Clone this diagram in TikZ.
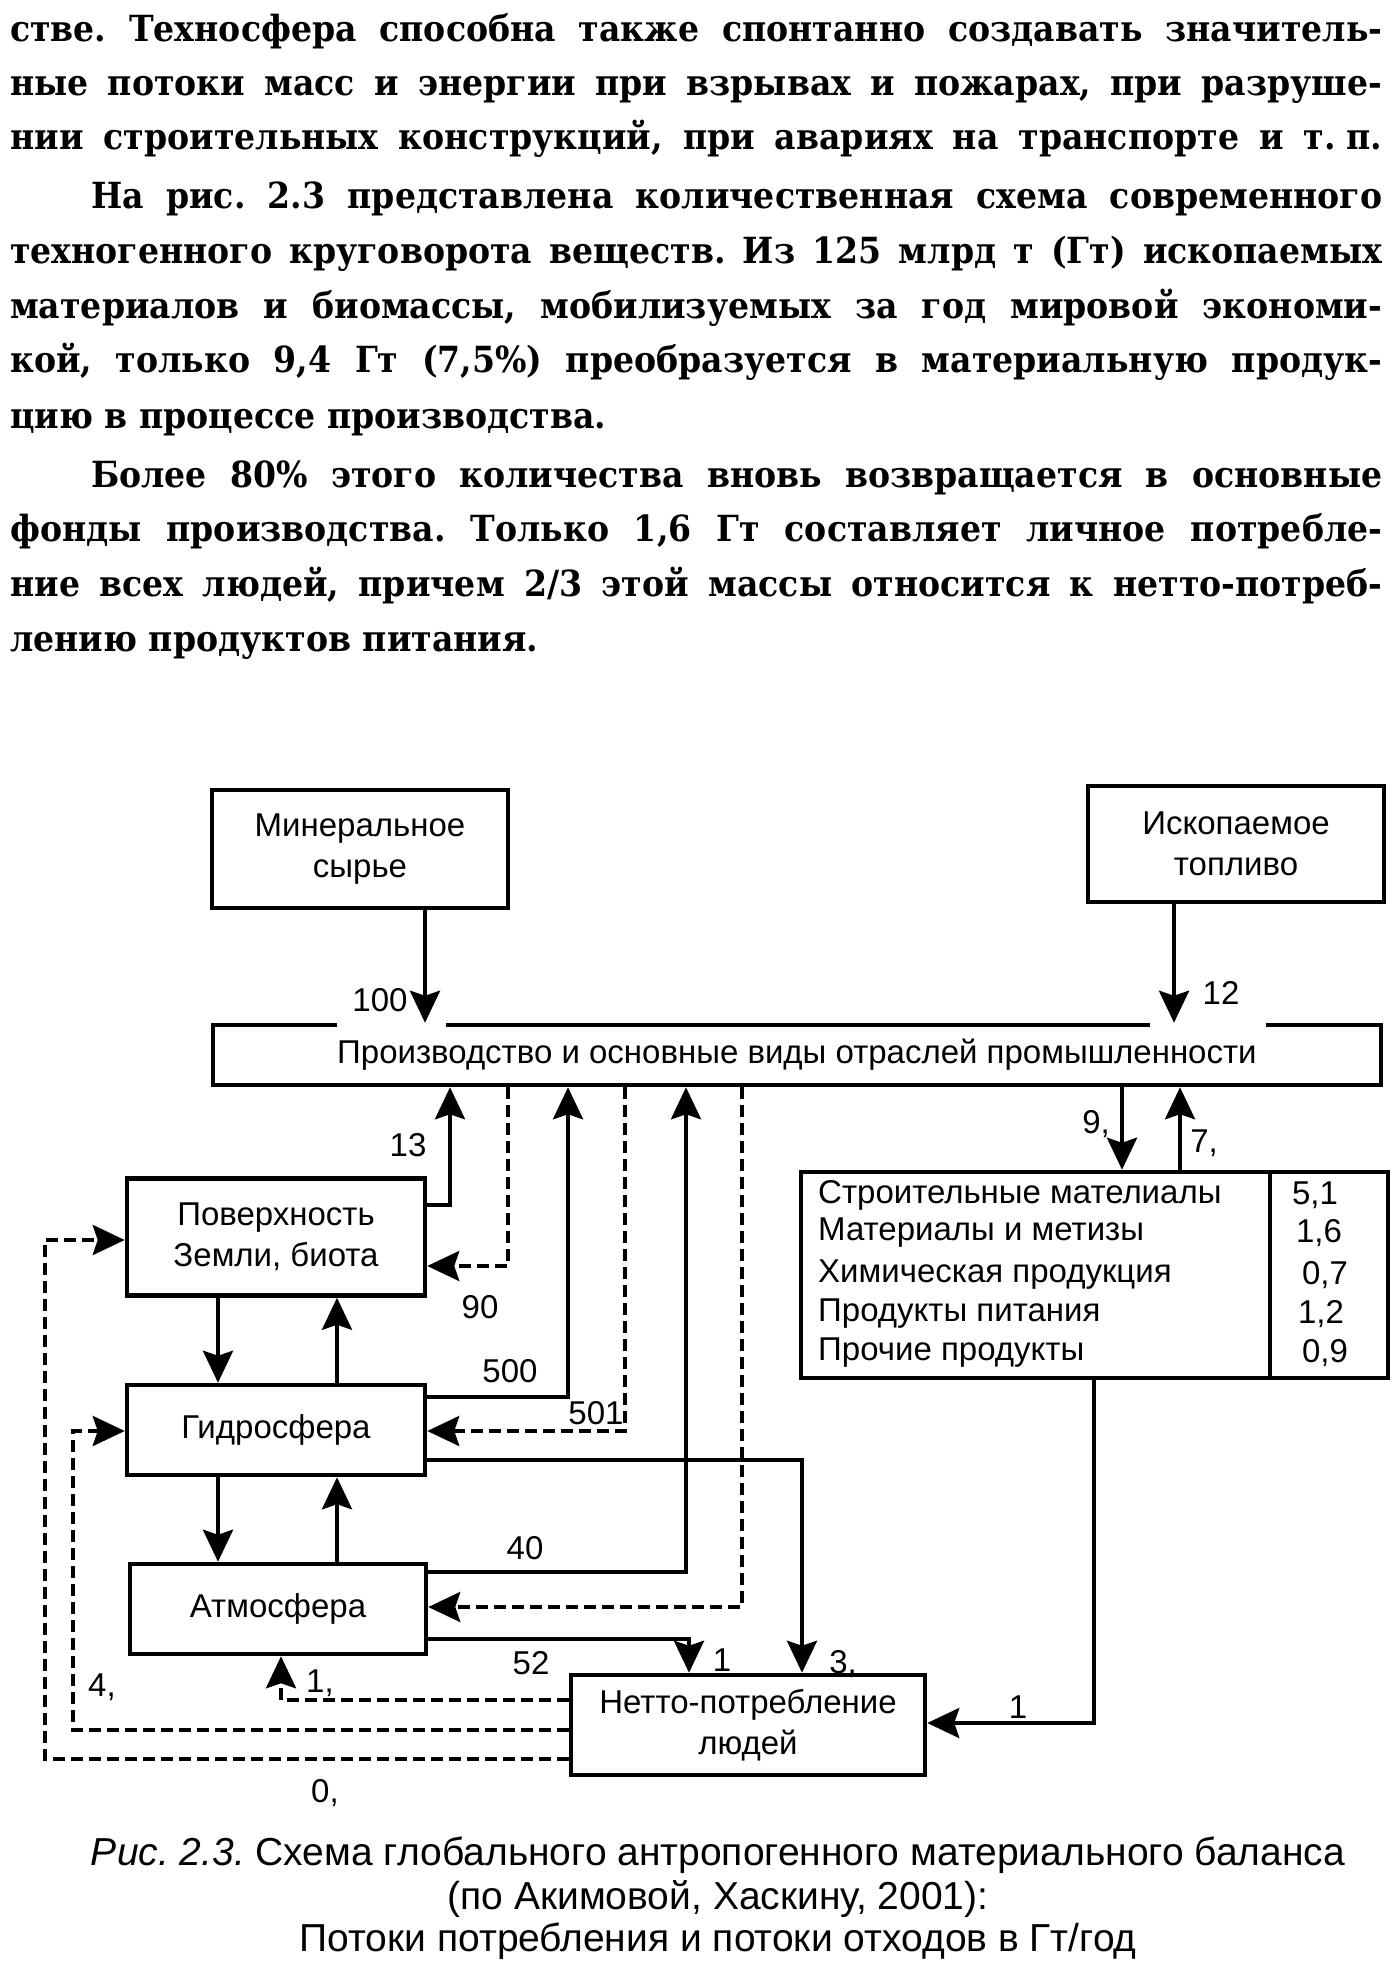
\documentclass[tikz,border=0pt]{standalone}
\usepackage{fontspec}
\setmainfont{DejaVu Serif}
\newfontfamily\tfont{DejaVu Serif Bold}[FakeStretch=0.92]
\newfontfamily\dfont{Liberation Sans}
\usetikzlibrary{arrows.meta}
\frenchspacing
\newcommand\tsz{\tfont\fontsize{36}{40}\selectfont\frenchspacing}
\newcommand\dsz{\dfont\fontsize{33}{41}\selectfont}
\newcommand\csz{\dfont\fontsize{39}{42}\selectfont}
\newcommand\jl[4]{\node[anchor=base west,inner sep=0pt] (#1) at (#2,#3) {\tsz\makebox[\dimexpr1382pt-#2pt\relax][s]{#4}};}
\newcommand\fl[4]{\node[anchor=base west,inner sep=0pt] (#1) at (#2,#3) {\tsz #4};}
\begin{document}
\begin{tikzpicture}[x=1pt,y=-1pt,
  box/.style={draw,line width=4.5pt,inner sep=0pt,font=\dsz,align=center},
  flow/.style={line width=4pt,-{Stealth[length=32pt,width=30pt,inset=5pt]}},
  dflow/.style={flow,dash pattern=on 12pt off 6pt},
  lbl/.style={font=\dsz,inner sep=0pt},
  row/.style={font=\dsz,inner sep=0pt,anchor=west}]
\fill[white] (0,0) rectangle (1397,1988);
\useasboundingbox (0,0) rectangle (1397,1988);

% paragraph text
\jl{p1}{10}{42}{стве. Техносфера способна также спонтанно создавать значитель-}
\jl{p2}{10}{96}{ные потоки масс и энергии при взрывах и пожарах, при разруше-}
\jl{p3}{10}{150}{нии строительных конструкций, при авариях на транспорте и т.\kern.3em п.}
\jl{p4}{91}{208}{На рис. 2.3 представлена количественная схема современного}
\jl{p5}{10}{263}{техногенного круговорота веществ. Из 125 млрд т (Гт) ископаемых}
\jl{p6}{10}{318}{материалов и биомассы, мобилизуемых за год мировой экономи-}
\jl{p7}{10}{372}{кой, только 9,4 Гт (7,5\%) преобразуется в материальную продук-}
\fl{p8}{10}{428}{цию в процессе производства.}
\jl{p9}{91}{487}{Более 80\% этого количества вновь возвращается в основные}
\jl{p10}{10}{541}{фонды производства. Только 1,6 Гт составляет личное потребле-}
\jl{p11}{10}{596}{ние всех людей, причем 2/3 этой массы относится к нетто-потреб-}
\fl{p12}{10}{651}{лению продуктов питания.}

% boxes
\node[box,minimum width=296pt,minimum height=118pt] (min) at (360,849) {Минеральное\\сырье};
\node[box,minimum width=296pt,minimum height=116pt] (fos) at (1236,844) {Ископаемое\\топливо};
\node[box,minimum width=1168pt,minimum height=60pt] (prod) at (797,1055) {Производство и основные виды отраслей промышленности};
\node[box,minimum width=298pt,minimum height=117pt] (pov) at (276,1237) {Поверхность\\Земли, биота};
\node[box,minimum width=298pt,minimum height=90pt] (gid) at (276,1430) {Гидросфера};
\node[box,minimum width=296pt,minimum height=90pt] (atm) at (278,1609) {Атмосфера};
\node[box,minimum width=354pt,minimum height=100pt] (net) at (748,1725) {Нетто-потребление\\людей};
\node[box,minimum width=587pt,minimum height=206pt] (tab) at (1094.5,1275) {};
\coordinate (kdiv) at (1270,0);
\draw[line width=4.5pt] (tab.north -| kdiv) -- (tab.south -| kdiv);

% table rows
\node[row] (r1) at (818,1195) {Строительные мателиалы};
\node[row] (r2) at (818,1233) {Материалы и метизы};
\node[row] (r3) at (818,1275) {Химическая продукция};
\node[row] (r4) at (818,1314) {Продукты питания};
\node[row] (r5) at (818,1353) {Прочие продукты};
\node[lbl] (v1) at (1315,1195) {5,1};
\node[lbl] (v2) at (1319,1233) {1,6};
\node[lbl] (v3) at (1325,1275) {0,7};
\node[lbl] (v4) at (1321,1314) {1,2};
\node[lbl] (v5) at (1325,1353) {0,9};

% gaps in the top edge of the production box
\draw[white,line width=8pt] (337,1025) -- (446,1025);
\draw[white,line width=8pt] (1150,1025) -- (1266,1025);

% coordinates
\coordinate (km) at (425,0);
\coordinate (kf) at (1174,0);
\coordinate (k13) at (450,1205);
\coordinate (k90) at (508,1266);
\coordinate (k500) at (568,1397);
\coordinate (k501) at (625,1431);
\coordinate (k40) at (686,1572);
\coordinate (kda) at (742,1607);
\coordinate (k3) at (802,1460);
\coordinate (k52) at (689,1639);
\coordinate (k9) at (1122,0);
\coordinate (k7) at (1180,0);
\coordinate (kt) at (1094,1723);
\coordinate (ka) at (218,0);
\coordinate (kb) at (337,0);
\coordinate (kn1) at (281,1700);
\coordinate (kn4) at (73,1730);
\coordinate (kg4) at (73,1431);
\coordinate (kn0) at (45,1759);
\coordinate (kp0) at (45,1240);

% connectors
\draw[flow] (min.south -| km) -- (prod.north -| km);
\draw[flow] (fos.south -| kf) -- (prod.north -| kf);
\draw[flow] (pov.east |- k13) -| (prod.south -| k13);
\draw[dflow] (prod.south -| k90) |- (pov.east |- k90);
\draw[flow] (gid.east |- k500) -| (prod.south -| k500);
\draw[dflow] (prod.south -| k501) |- (gid.east |- k501);
\draw[flow] (atm.east |- k40) -| (prod.south -| k40);
\draw[dflow] (prod.south -| kda) |- (atm.east |- kda);
\draw[flow] (gid.east |- k3) -| (net.north -| k3);
\draw[flow] (atm.east |- k52) -| (net.north -| k52);
\draw[flow] (prod.south -| k9) -- (tab.north -| k9);
\draw[flow] (tab.north -| k7) -- (prod.south -| k7);
\draw[flow] (tab.south -| kt) |- (net.east |- kt);
\draw[flow] (pov.south -| ka) -- (gid.north -| ka);
\draw[flow] (gid.north -| kb) -- (pov.south -| kb);
\draw[flow] (gid.south -| ka) -- (atm.north -| ka);
\draw[flow] (atm.north -| kb) -- (gid.south -| kb);
\draw[dflow] (net.west |- kn1) -| (atm.south -| kn1);
\draw[dflow] (net.west |- kn4) -| (kg4) -- (gid.west |- kg4);
\draw[dflow] (net.west |- kn0) -| (kp0) -- (pov.west |- kp0);

% labels
\node[lbl] (l100) at (380,1000) {100};
\node[lbl] (l12) at (1221,993) {12};
\node[lbl] (l13) at (408,1145) {13};
\node[lbl] (l90) at (480,1307) {90};
\node[lbl] (l500) at (510,1371) {500};
\node[lbl] (l501) at (596,1413) {501};
\node[lbl] (l40) at (525,1548) {40};
\node[lbl] (l52) at (531,1663) {52};
\node[lbl] (l1a) at (722,1660) {1};
\node[lbl] (l3) at (843,1664) {3,};
\node[lbl] (l9) at (1096,1124) {9,};
\node[lbl] (l7) at (1204,1143) {7,};
\node[lbl] (l1b) at (1018,1707) {1};
\node[lbl] (l1c) at (320,1683) {1,};
\node[lbl] (l4) at (102,1687) {4,};
\node[lbl] (l0) at (325,1793) {0,};

% caption
\node[font=\csz,inner sep=0pt,anchor=base] (cap1) at (718,1865) {\textit{Рис. 2.3.} Схема глобального антропогенного материального баланса};
\node[font=\csz,inner sep=0pt,anchor=base] (cap2) at (718,1909) {(по Акимовой, Хаскину, 2001):};
\node[font=\csz,inner sep=0pt,anchor=base] (cap3) at (718,1951) {Потоки потребления и потоки отходов в Гт/год};
\end{tikzpicture}
\end{document}
